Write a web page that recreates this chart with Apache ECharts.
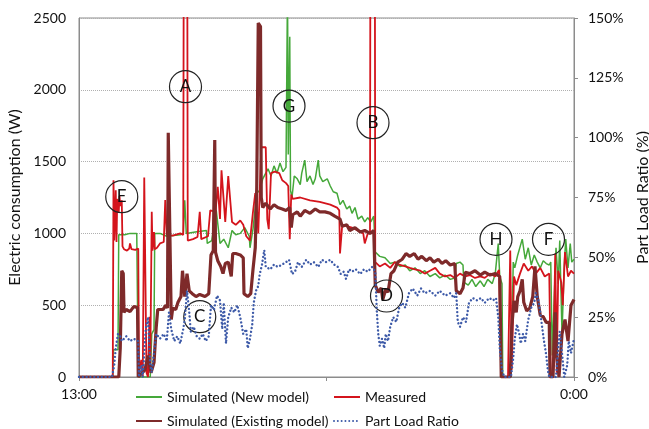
<!DOCTYPE html>
<html>
<head>
<meta charset="utf-8">
<script src="https://cdn.jsdelivr.net/npm/echarts@6/dist/echarts.min.js"></script>
<style>
html,body{margin:0;padding:0;background:#fff;}
#chart{width:649px;height:429px;}
</style>
</head>
<body>
<div id="chart"></div>
<script>
// time in minutes after 13:00, value in W
const newModel = [[0,0],[45,0],[46,190],[52,190],[53,990],[61,990],[68,1000],[77,1000],[79,0],[95,0],[97,300],[100,330],[101,1000],[108,1000],[117,980],[135,990],[139,1000],[141,1230],[143,1000],[155,1010],[170,1020],[171,930],[177,950],[183,1160],[185,1160],[188,930],[193,960],[199,900],[204,1020],[209,990],[215,1000],[221,1040],[227,980],[228,900],[232,1030],[237,1280],[241,1300],[245,1380],[252,1450],[256,1400],[260,1470],[264,1420],[268,1490],[272,1430],[276,1460],[277,1450],[278,2700],[279,1550],[281,2370],[282,1300],[284,1250],[287,1400],[291,1380],[295,1340],[297,1420],[301,1510],[304,1360],[308,1400],[312,1340],[315,1380],[319,1510],[321,1400],[325,1360],[331,1380],[335,1330],[339,1290],[344,1280],[348,1200],[352,1230],[357,1170],[361,1190],[364,1140],[368,1180],[372,1100],[377,1120],[381,1080],[385,1110],[389,1080],[393,1120],[395,870],[401,840],[408,830],[415,790],[421,800],[428,770],[435,780],[441,740],[448,760],[455,720],[461,740],[468,700],[475,720],[481,690],[488,710],[495,680],[501,690],[503,790],[508,800],[512,780],[513,660],[519,640],[524,680],[529,630],[535,670],[540,630],[545,680],[551,650],[555,720],[559,930],[561,700],[564,650],[565,0],[576,0],[579,800],[581,760],[585,850],[591,960],[595,820],[599,900],[603,780],[607,850],[611,800],[615,760],[619,810],[623,790],[627,780],[629,800],[631,150],[633,150],[636,900],[639,650],[641,950],[644,300],[647,780],[649,960],[652,760],[655,930],[657,800],[660,820]];

const measured = [[0,0],[45,0],[46,1370],[47,950],[49,1300],[50,940],[51,1240],[53,1150],[54,1260],[55,1190],[57,1230],[58,910],[60,890],[64,880],[67,895],[68,930],[70,890],[75,885],[79,895],[80,20],[82,10],[83,120],[85,0],[87,1390],[89,1380],[90,30],[92,0],[94,420],[95,60],[97,1150],[98,880],[100,1010],[101,890],[104,900],[108,930],[113,940],[115,1233],[117,990],[125,985],[135,1000],[139,990],[140,4000],[144,4000],[145,950],[152,960],[158,975],[161,1150],[163,960],[172,980],[175,1160],[182,1150],[185,1325],[188,1100],[190,1440],[195,1080],[199,1400],[204,1080],[209,1060],[215,1090],[219,1060],[223,980],[228,950],[232,1150],[235,1280],[237,1200],[239,1000],[243,1600],[249,1600],[251,1100],[253,1030],[256,1420],[261,1430],[267,1420],[271,1370],[276,1350],[279,1330],[281,960],[283,1270],[285,1240],[295,1250],[308,1230],[321,1220],[335,1200],[344,1180],[347,1160],[348,860],[351,1060],[357,1050],[364,1040],[372,1020],[379,1000],[381,930],[385,1000],[388,1000],[389,5000],[394,5000],[395,800],[401,770],[408,790],[415,760],[421,800],[428,780],[435,770],[441,760],[448,750],[455,740],[461,720],[468,740],[475,760],[481,720],[488,700],[495,710],[501,690],[508,720],[515,700],[521,710],[528,690],[535,700],[541,690],[548,720],[555,700],[560,745],[563,0],[572,0],[575,880],[577,50],[580,700],[583,640],[588,720],[593,790],[599,740],[604,770],[609,720],[615,760],[621,700],[627,720],[629,0],[632,0],[635,860],[637,30],[639,740],[643,660],[645,500],[648,870],[652,700],[656,740],[660,720]];

const existingModel = [[0,0],[53,0],[55,200],[57,740],[59,720],[60,450],[63,470],[68,455],[73,490],[78,485],[79,0],[88,50],[92,150],[96,30],[100,100],[103,350],[105,470],[112,470],[116,500],[118,480],[119,1700],[121,1690],[123,400],[125,480],[129,470],[132,520],[136,560],[138,740],[140,730],[141,560],[144,720],[147,600],[151,580],[156,560],[161,575],[168,560],[173,580],[176,850],[179,880],[181,1650],[182,870],[185,810],[189,770],[192,720],[195,790],[199,800],[203,700],[205,860],[209,860],[215,850],[219,830],[220,580],[225,560],[229,580],[232,750],[235,900],[237,1320],[239,2465],[242,2440],[243,1250],[245,1180],[249,1210],[255,1170],[260,1200],[265,1180],[271,1170],[276,1160],[281,1180],[283,1040],[285,1130],[291,1150],[295,1120],[301,1160],[308,1140],[315,1170],[321,1150],[328,1150],[335,1140],[341,1120],[348,1100],[351,1050],[357,1060],[361,1020],[368,1040],[375,1010],[381,1020],[388,1000],[393,1020],[395,640],[399,590],[403,620],[405,540],[409,610],[412,590],[416,720],[420,740],[425,800],[431,820],[436,860],[441,840],[447,860],[452,820],[457,840],[463,810],[468,830],[473,800],[479,820],[484,790],[489,810],[495,780],[501,790],[503,600],[508,580],[512,620],[515,730],[521,720],[528,740],[535,710],[541,730],[548,710],[555,720],[561,700],[563,0],[575,0],[577,350],[580,530],[583,450],[585,560],[588,600],[591,680],[593,520],[597,460],[601,480],[605,560],[608,770],[611,560],[615,430],[619,420],[623,380],[627,380],[628,0],[632,0],[635,450],[637,150],[640,0],[644,300],[648,400],[652,250],[656,500],[660,540]];

// part load ratio in %
const partLoad = [[0,0],[44,0],[47,5],[49,12],[52,18],[55,17],[57,15],[63,17],[68,15],[73,16],[79,15],[80,0],[83,5],[85,0],[89,20],[92,25],[95,5],[97,2],[100,10],[103,18],[108,16],[113,18],[117,15],[120,27],[123,20],[127,15],[131,17],[135,14],[139,20],[141,24],[144,36],[147,27],[149,19],[153,21],[157,17],[161,16],[165,18],[169,15],[173,17],[176,30],[180,28],[184,34],[188,32],[191,20],[193,31],[196,14],[199,25],[203,29],[207,27],[211,30],[215,25],[219,18],[223,20],[225,12],[228,16],[231,22],[233,31],[236,36],[239,38],[241,43],[244,47],[247,53],[249,46],[255,45],[260,47],[265,46],[271,47],[276,48],[280,49],[284,43],[288,44],[292,48],[297,46],[303,49],[308,47],[313,48],[319,46],[324,49],[329,48],[335,49],[340,47],[345,46],[349,43],[353,44],[356,41],[360,45],[364,44],[369,45],[375,43],[380,45],[385,44],[391,46],[395,44],[397,28],[399,18],[401,13],[404,16],[407,12],[409,18],[412,15],[415,21],[419,25],[423,23],[427,29],[431,31],[435,29],[440,35],[445,37],[451,34],[456,37],[461,35],[468,36],[475,34],[481,36],[488,34],[495,35],[500,33],[503,35],[505,23],[508,21],[512,25],[516,23],[520,31],[525,33],[531,32],[536,33],[541,31],[547,33],[552,32],[556,33],[559,25],[561,12],[564,3],[567,0],[576,0],[579,8],[581,16],[584,22],[587,18],[589,14],[592,18],[595,15],[599,24],[603,29],[607,31],[609,35],[612,33],[615,27],[617,22],[620,15],[623,9],[625,3],[627,0],[636,0],[639,12],[641,19],[644,10],[647,0],[651,5],[653,15],[656,10],[660,16]];

// annotation circles: [label, minute, W]
const notes = [['A',142,2022],['G',280,1887],['B',392,1771],['E',57,1256],['C',161,420],['D',410,564],['H',556,959],['F',626,959]];

const xTickLabels = {0:'13:00', 330:'', 660:'0:00'};
const leftTicks = [0,500,1000,1500,2000,2500];
const rightTicks = [0,25,50,75,100,125,150];
const seriesNames = ['Simulated (New model)','Measured','Simulated (Existing model)','Part Load Ratio'];

const F = 'Lato, "Open Sans", sans-serif';
function lg(name, left, top){
  return {show:true,orient:'horizontal',left:left,top:top,itemWidth:26,itemHeight:12,padding:0,
    data:[name],itemStyle:{opacity:0},
    textStyle:{fontFamily:F,fontSize:14,color:'#111'}};
}
const chart = echarts.init(document.getElementById('chart'), null, {renderer:'canvas'});
chart.setOption({
  animation:false,
  backgroundColor:'#fff',
  textStyle:{fontFamily:F},
  grid:{left:79,right:75,top:18,bottom:52,show:true,borderColor:'#8c8c8c',borderWidth:1,
        containLabel:false,outerBoundsMode:'none'},
  legend:[lg(seriesNames[0],135,390),lg(seriesNames[1],333,390),lg(seriesNames[2],135,414),lg(seriesNames[3],333,414)],
  xAxis:{type:'value',min:0,max:660,interval:330,
    axisLine:{show:true,lineStyle:{color:'#8c8c8c'}},
    axisTick:{show:true,length:4,lineStyle:{color:'#8c8c8c'}},
    splitLine:{show:false},
    axisLabel:{margin:10,fontSize:14,color:'#111',fontFamily:F,
      formatter:v=> (xTickLabels[v]!==undefined?xTickLabels[v]:'')}},
  yAxis:[
    {type:'value',min:leftTicks[0],max:leftTicks[leftTicks.length-1],interval:500,
     name:'Electric consumption (W)',nameLocation:'middle',nameRotate:90,nameGap:53,
     nameTextStyle:{fontSize:16,color:'#111',fontFamily:F},
     axisLine:{show:true,lineStyle:{color:'#8c8c8c'}},axisTick:{show:false},
     axisLabel:{margin:13,fontSize:14,color:'#111',fontFamily:F,formatter:v=>String(v)},
     splitLine:{show:true,lineStyle:{type:'dotted',color:'#b0b0b0',width:1}}},
    {type:'value',min:rightTicks[0],max:rightTicks[rightTicks.length-1],interval:25,position:'right',
     name:'Part Load Ratio (%)',nameLocation:'middle',nameRotate:90,nameGap:56,
     nameTextStyle:{fontSize:16,color:'#111',fontFamily:F},
     axisLine:{show:true,lineStyle:{color:'#8c8c8c'}},
     axisTick:{show:true,length:4,lineStyle:{color:'#8c8c8c'}},
     axisLabel:{margin:14,fontSize:14,color:'#111',fontFamily:F,formatter:v=>v+'%'},
     splitLine:{show:false}}
  ],
  series:[
    {name:seriesNames[0],type:'line',data:newModel,symbol:'none',z:2,
     lineStyle:{color:'#45a83a',width:1.5},itemStyle:{color:'#45a83a'}},
    {name:seriesNames[1],type:'line',data:measured,symbol:'none',z:3,
     lineStyle:{color:'#d4141c',width:1.8},itemStyle:{color:'#d4141c'},
     markPoint:{symbol:'circle',symbolSize:32,silent:true,
       itemStyle:{color:'rgba(0,0,0,0)',borderColor:'#222',borderWidth:1.2,opacity:1},
       label:{show:true,position:'inside',color:'#111',fontSize:17,fontFamily:F,formatter:p=>p.name},
       data:notes.map(n=>({name:n[0],coord:[n[1],n[2]]}))}},
    {name:seriesNames[2],type:'line',data:existingModel,symbol:'none',z:4,
     lineStyle:{color:'#7e2a2a',width:3.2},itemStyle:{color:'#7e2a2a'}},
    {name:seriesNames[3],type:'line',yAxisIndex:1,data:partLoad,symbol:'none',z:5,
     lineStyle:{color:'#3d5aa8',width:2.4,type:[0.01,3.8],cap:'round'},itemStyle:{color:'#3d5aa8'}}
  ]
});
</script>
</body>
</html>
